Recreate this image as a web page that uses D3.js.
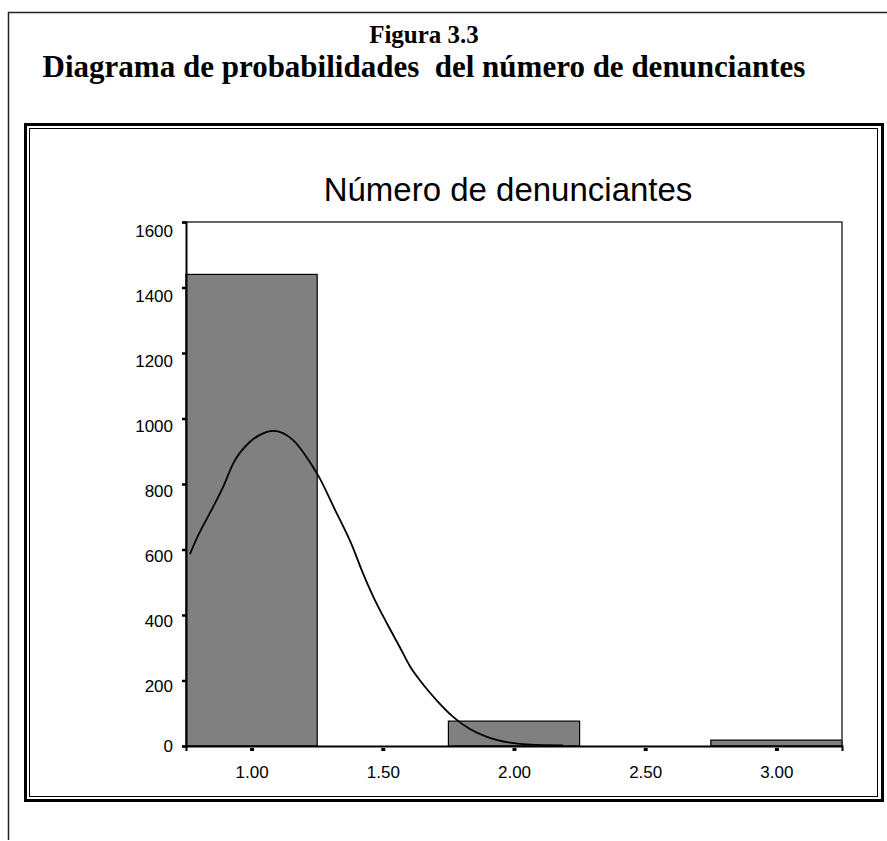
<!DOCTYPE html>
<html>
<head>
<meta charset="utf-8">
<script src="https://cdn.jsdelivr.net/npm/d3@7"></script>
<style>
  body { margin: 0; background: #fff; }
  svg { display: block; }
  .serif { font-family: "Times New Roman", "Liberation Serif", serif; font-weight: bold; }
  .sans { font-family: Arial, "Liberation Sans", sans-serif; }
</style>
</head>
<body>
<svg id="svg" width="887" height="841"></svg>
<script>
// histogram of the number of complainants
const binCenters = [1, 2, 3];
const binCounts = [1440, 76, 18];
const binWidth = 0.5;

// fitted normal curve
const curveX = [0.765, 0.791, 0.854, 0.892, 0.930, 0.994, 1.032, 1.082, 1.158, 1.234, 1.253, 1.318, 1.383,
  1.421, 1.463, 1.516, 1.566, 1.604, 1.642, 1.707, 1.768, 1.832, 1.897, 1.985, 2.061, 2.187];
const curveY = [586, 634, 731, 792, 863, 929, 950, 962, 934, 852, 827, 721, 612,
  534, 457, 374, 300, 243, 200, 138, 89, 52, 28, 10, 4, 2];

const xTicks = [1.0, 1.5, 2.0, 2.5, 3.0];
const yTicks = [0, 200, 400, 600, 800, 1000, 1200, 1400, 1600];

const pageTitle = "Figura 3.3";
const pageSubtitle = "Diagrama de probabilidades  del número de denunciantes";
const chartTitle = "Número de denunciantes";

let svg = d3.select("#svg");

// page frame (top and left only)
svg.append("path")
  .attr("d", "M8.5,840 V12.5 H887")
  .style("fill", "none")
  .style("stroke", "#222")
  .style("stroke-width", 1.5);

// headings
svg.append("text")
  .attr("class", "serif")
  .attr("x", 424).attr("y", 43)
  .attr("text-anchor", "middle")
  .style("font-size", "25px")
  .text(pageTitle);

svg.append("text")
  .attr("class", "serif")
  .attr("x", 424).attr("y", 77)
  .attr("text-anchor", "middle")
  .style("font-size", "31px")
  .style("white-space", "pre")
  .text(pageSubtitle);

// double frame around the chart
svg.append("rect")
  .attr("x", 25.5).attr("y", 124.5)
  .attr("width", 857).attr("height", 676)
  .style("fill", "none").style("stroke", "#000").style("stroke-width", 3);
svg.append("rect")
  .attr("x", 29.5).attr("y", 128.5)
  .attr("width", 848).attr("height", 668)
  .style("fill", "none").style("stroke", "#000").style("stroke-width", 1);

// plot area
let x0 = 186, x1 = 842, y0 = 746, y1 = 222;
let x = d3.scaleLinear().domain([0.75, 3.25]).range([x0, x1]);
let y = d3.scaleLinear().domain([0, 1600]).range([y0, y1]);
// labels sit a little under their ticks in the original
let labelShift = d3.scaleLinear().domain([0, 200, 1600]).range([0, 6, 9]);

svg.append("text")
  .attr("class", "sans")
  .attr("x", 508).attr("y", 201)
  .attr("text-anchor", "middle")
  .style("font-size", "33px")
  .text(chartTitle);

// bars
svg.append("g")
  .selectAll("rect")
  .data(binCenters.map((c, i) => ({ c: c, n: binCounts[i] })))
  .enter()
  .append("rect")
  .attr("x", (d) => x(d.c - binWidth / 2))
  .attr("y", (d) => y(d.n))
  .attr("width", (d) => x(d.c + binWidth / 2) - x(d.c - binWidth / 2))
  .attr("height", (d) => y(0) - y(d.n))
  .style("fill", "#808080")
  .style("stroke", "#000")
  .style("stroke-width", 1.2);

// normal curve
let line = d3.line()
  .x((d) => x(d[0]))
  .y((d) => y(d[1]))
  .curve(d3.curveMonotoneX);
svg.append("path")
  .attr("d", line(curveX.map((v, i) => [v, curveY[i]])))
  .style("fill", "none")
  .style("stroke", "#000")
  .style("stroke-width", 1.8);

// box: top and right
svg.append("path")
  .attr("d", `M${x0},${y1} H${x1} V${y0}`)
  .style("fill", "none")
  .style("stroke", "#333")
  .style("stroke-width", 1.5);

// y axis
let yAxis = svg.append("g")
  .attr("transform", `translate(${x0},0)`)
  .call(d3.axisLeft(y).tickValues(yTicks).tickSize(4).tickPadding(9).tickFormat(d3.format("d")));
yAxis.select(".domain").style("stroke", "#000").style("stroke-width", 2);
yAxis.selectAll(".tick line").style("stroke", "#000").style("stroke-width", 2.5);
yAxis.selectAll(".tick text")
  .attr("class", "sans")
  .attr("y", (d) => labelShift(d))
  .style("font-size", "17px")
  .style("fill", "#000");

// x axis
let xAxis = svg.append("g")
  .attr("transform", `translate(0,${y0})`)
  .call(d3.axisBottom(x).tickValues(xTicks).tickSize(5).tickPadding(0).tickFormat(d3.format(".2f")));
xAxis.select(".domain").style("stroke", "#000").style("stroke-width", 2);
xAxis.selectAll(".tick line")
  .attr("y1", 2).attr("y2", 5)
  .style("stroke", "#000").style("stroke-width", 4);
xAxis.selectAll(".tick text")
  .attr("class", "sans")
  .attr("y", 20)
  .style("font-size", "17px")
  .style("fill", "#000");
</script>
</body>
</html>
